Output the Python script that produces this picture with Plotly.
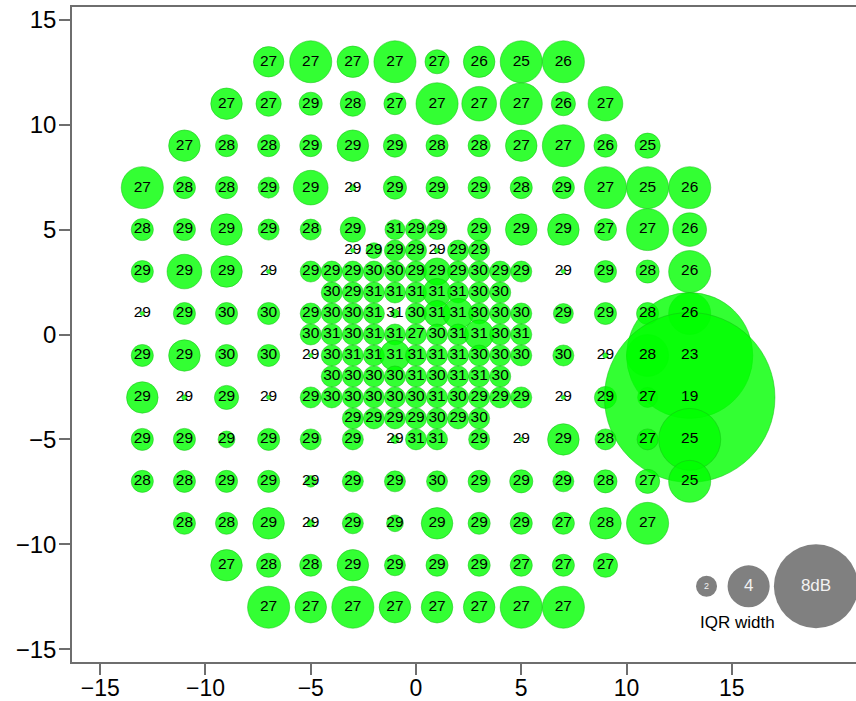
import numpy as np
import plotly.graph_objects as go

# ---- Peripheral test locations (2-degree grid), by row from top to bottom ----
outer_x = [
    -7, -5, -3, -1, 1, 3, 5, 7,                                   # y = 13
    -9, -7, -5, -3, -1, 1, 3, 5, 7, 9,                            # y = 11
    -11, -9, -7, -5, -3, -1, 1, 3, 5, 7, 9, 11,                   # y = 9
    -13, -11, -9, -7, -5, -3, -1, 1, 3, 5, 7, 9, 11, 13,          # y = 7
    -13, -11, -9, -7, 7, 9, 11, 13,                               # y = 5
    -13, -11, -9, -7, 7, 9, 11, 13,                               # y = 3
    -13, -11, -9, -7, 7, 9, 11, 13,                               # y = 1
    -13, -11, -9, -7, 7, 9, 11, 13,                               # y = -1
    -13, -11, -9, -7, 7, 9, 11, 13,                               # y = -3
    -13, -11, -9, -7, 7, 9, 11, 13,                               # y = -5
    -13, -11, -9, -7, -5, -3, -1, 1, 3, 5, 7, 9, 11, 13,          # y = -7
    -11, -9, -7, -5, -3, -1, 1, 3, 5, 7, 9, 11,                   # y = -9
    -9, -7, -5, -3, -1, 1, 3, 5, 7, 9,                            # y = -11
    -7, -5, -3, -1, 1, 3, 5, 7,                                   # y = -13
]
outer_y = (
    [13] * 8 + [11] * 10 + [9] * 12 + [7] * 14
    + [5] * 8 + [3] * 8 + [1] * 8 + [-1] * 8 + [-3] * 8 + [-5] * 8
    + [-7] * 14 + [-9] * 12 + [-11] * 10 + [-13] * 8
)
# median sensitivity (dB)
outer_db = [
    27, 27, 27, 27, 27, 26, 25, 26,
    27, 27, 29, 28, 27, 27, 27, 27, 26, 27,
    27, 28, 28, 29, 29, 29, 28, 28, 27, 27, 26, 25,
    27, 28, 28, 29, 29, 29, 29, 29, 29, 28, 29, 27, 25, 26,
    28, 29, 29, 29, 29, 27, 27, 26,
    29, 29, 29, 29, 29, 29, 28, 26,
    29, 29, 30, 30, 29, 29, 28, 26,
    29, 29, 30, 30, 30, 29, 28, 23,
    29, 29, 29, 29, 29, 29, 27, 19,
    29, 29, 29, 29, 29, 28, 27, 25,
    28, 28, 29, 29, 29, 29, 29, 30, 29, 29, 29, 28, 27, 25,
    28, 28, 29, 29, 29, 29, 29, 29, 29, 27, 28, 27,
    27, 28, 28, 29, 29, 29, 29, 27, 27, 27,
    27, 27, 27, 27, 27, 27, 27, 27,
]
# interquartile range width (dB)
outer_iqr = [
    2.9, 4.0, 3.0, 4.0, 2.3, 3.0, 4.0, 4.0,
    3.0, 2.4, 2.2, 2.4, 2.1, 4.0, 3.3, 4.0, 2.3, 3.3,
    3.0, 2.1, 2.1, 2.1, 3.0, 2.2, 2.1, 2.1, 3.0, 4.0, 2.2, 2.4,
    4.0, 2.1, 2.1, 2.0, 3.3, 0.6, 2.2, 2.1, 2.1, 2.1, 2.1, 4.0, 4.0, 4.0,
    2.1, 2.1, 3.0, 2.0, 3.0, 2.1, 4.0, 3.2,
    2.1, 3.3, 3.0, 0.4, 0.4, 2.1, 2.2, 4.0,
    0.4, 2.1, 2.1, 2.1, 1.9, 2.1, 2.1, 4.0,
    2.1, 3.0, 2.1, 2.1, 2.0, 0.5, 4.0, 12.0,
    3.0, 0.5, 2.3, 0.4, 0.4, 2.1, 1.9, 16.2,
    2.1, 2.1, 1.6, 2.1, 3.0, 2.0, 2.0, 5.9,
    2.1, 2.1, 2.1, 2.1, 1.1, 2.0, 2.0, 2.0, 2.1, 2.2, 2.0, 2.2, 2.3, 4.0,
    2.1, 2.1, 3.0, 0.7, 2.0, 1.6, 3.0, 2.1, 2.1, 2.1, 3.0, 4.0,
    3.0, 2.3, 2.1, 3.0, 2.0, 2.1, 2.1, 2.1, 2.1, 2.3,
    4.0, 3.0, 4.0, 3.0, 3.0, 3.0, 4.0, 4.0,
]

# ---- Central test locations (1-degree grid) ----
central_x = (
    [-5, -3, -1, 0, 1, 3, 5]            # y = 5
    + list(range(-3, 4))                # y = 4
    + list(range(-5, 6))                # y = 3
    + list(range(-4, 5))                # y = 2
    + list(range(-5, 6))                # y = 1
    + list(range(-5, 6))                # y = 0
    + list(range(-5, 6))                # y = -1
    + list(range(-4, 5))                # y = -2
    + list(range(-5, 6))                # y = -3
    + list(range(-3, 4))                # y = -4
    + [-5, -3, -1, 0, 1, 3, 5]          # y = -5
)
central_y = (
    [5] * 7 + [4] * 7 + [3] * 11 + [2] * 9 + [1] * 11 + [0] * 11
    + [-1] * 11 + [-2] * 9 + [-3] * 11 + [-4] * 7 + [-5] * 7
)
central_db = [
    28, 29, 31, 29, 29, 29, 29,
    29, 29, 29, 29, 29, 29, 29,
    29, 29, 29, 30, 30, 29, 29, 29, 30, 29, 29,
    30, 29, 31, 31, 31, 31, 31, 30, 30,
    29, 30, 30, 31, 31, 30, 31, 31, 30, 30, 30,
    30, 31, 30, 31, 31, 27, 30, 31, 31, 30, 31,
    29, 30, 31, 31, 31, 31, 31, 31, 30, 30, 30,
    30, 30, 30, 30, 31, 30, 31, 31, 30,
    29, 30, 30, 30, 30, 30, 31, 30, 29, 29, 29,
    29, 29, 29, 29, 30, 29, 30,
    29, 29, 29, 31, 31, 29, 29,
]
central_iqr = [
    2.0, 2.4, 1.9, 2.0, 1.9, 2.2, 3.0,
    0.4, 1.5, 2.0, 2.0, 0.5, 2.0, 2.0,
    2.0, 2.0, 2.0, 2.0, 2.0, 2.0, 2.6, 2.0, 2.0, 2.0, 2.0,
    2.0, 2.0, 2.0, 2.0, 2.0, 2.7, 2.0, 2.0, 2.0,
    2.0, 2.0, 2.0, 2.0, 0.8, 2.0, 2.5, 2.9, 2.0, 2.0, 2.0,
    2.0, 2.0, 2.0, 2.0, 2.0, 2.0, 2.0, 2.0, 2.8, 2.0, 2.0,
    0.4, 2.0, 2.0, 2.0, 2.9, 2.0, 2.0, 2.0, 2.0, 2.0, 2.0,
    2.0, 2.0, 2.0, 2.0, 2.0, 2.0, 2.0, 2.0, 2.0,
    2.0, 2.0, 2.0, 2.0, 2.0, 2.0, 2.0, 2.0, 2.0, 2.0, 2.0,
    2.0, 2.0, 2.0, 2.0, 2.0, 2.0, 2.0,
    2.0, 2.0, 0.8, 2.0, 2.0, 2.0, 0.4,
]

# ---- Size key ----
key_iqr = [2, 4, 8]
key_labels = ["2", "4", "8dB"]
key_x = [13.8, 15.8, 19.0]
key_y = -12.0

# circle radius in degrees per dB of IQR width
RADIUS_PER_DB = 0.25

FONT = "Liberation Sans, Arial, sans-serif"
FILL = "rgba(0,255,0,0.8)"
EDGE = "rgba(20,190,20,0.5)"

xs = np.array(outer_x + central_x, dtype=float)
ys = np.array(outer_y + central_y, dtype=float)
vals = outer_db + central_db
iqrs = np.array(outer_iqr + central_iqr, dtype=float)

shapes = []
for x, y, w in zip(xs, ys, iqrs):
    r = w * RADIUS_PER_DB
    shapes.append(dict(type="circle", xref="x", yref="y", layer="below",
                       x0=x - r, x1=x + r, y0=y - r, y1=y + r,
                       fillcolor=FILL, line=dict(color=EDGE, width=1)))
for x, w in zip(key_x, key_iqr):
    r = w * RADIUS_PER_DB
    shapes.append(dict(type="circle", xref="x", yref="y", layer="below",
                       x0=x - r, x1=x + r, y0=key_y - r, y1=key_y + r,
                       fillcolor="#808080", line=dict(width=0)))

fig = go.Figure()
fig.add_trace(go.Scatter(
    x=xs, y=ys, mode="text", text=[str(v) for v in vals],
    textposition="middle center",
    textfont=dict(family=FONT, size=15.5, color="black"),
    hoverinfo="skip", showlegend=False,
))
fig.add_trace(go.Scatter(
    x=key_x, y=[key_y] * len(key_x), mode="text", text=key_labels,
    textposition="middle center",
    textfont=dict(family=FONT, size=[9, 17, 17], color="#f2f2f2"),
    hoverinfo="skip", showlegend=False,
))
fig.add_annotation(x=15.25, y=-13.75, xref="x", yref="y", text="IQR width",
                   showarrow=False, font=dict(family=FONT, size=17, color="black"))

axis_common = dict(
    showgrid=False, zeroline=False, showline=True, linecolor="#6e6e6e",
    linewidth=1.5, ticks="outside", ticklen=11, tickwidth=1.5,
    tickcolor="#6e6e6e", automargin=False,
)
fig.update_xaxes(range=[-16.34, 20.90], tickvals=[-15, -10, -5, 0, 5, 10, 15],
                 mirror=True, ticklabelstandoff=-6,
                 tickfont=dict(family=FONT, size=23, color="black"),
                 **axis_common)
fig.update_yaxes(range=[-15.61, 15.61], tickvals=[-15, -10, -5, 0, 5, 10, 15],
                 ticklabelstandoff=-2,
                 tickfont=dict(family=FONT, size=24, color="black"),
                 **axis_common)

fig.update_layout(
    width=856, height=701,
    margin=dict(l=72, r=0, t=7, b=39),
    paper_bgcolor="white", plot_bgcolor="white",
    shapes=shapes, showlegend=False,
)

fig.write_html("out.html")
